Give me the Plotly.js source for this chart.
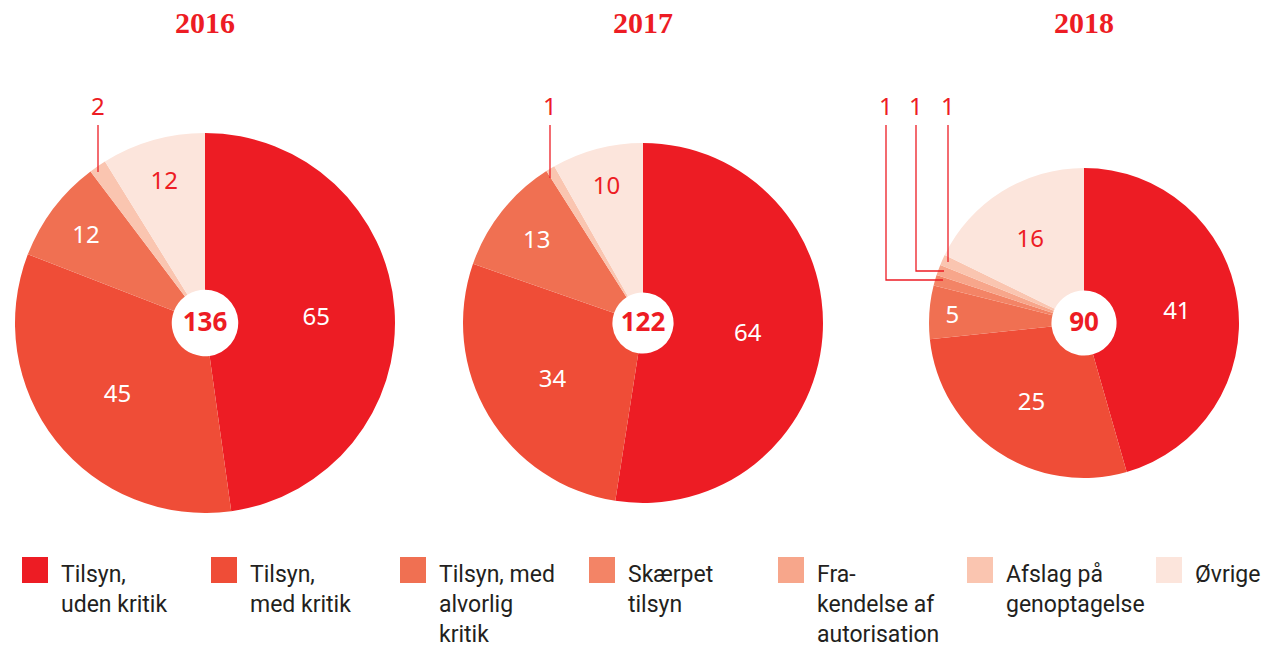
<!DOCTYPE html>
<html><head><meta charset="utf-8">
<script src="https://cdn.plot.ly/plotly-3.0.1.min.js"></script>
<style>html,body{margin:0;padding:0;background:#fff}#chart{width:1288px;height:649px}</style>
</head><body><div id="chart"></div>
<script>
const categories = ['Tilsyn,<br>uden kritik','Tilsyn,<br>med kritik','Tilsyn, med<br>alvorlig<br>kritik','Skærpet<br>tilsyn','Fra-<br>kendelse af<br>autorisation','Afslag på<br>genoptagelse','Øvrige'];
const years = ['2016','2017','2018'];
const values2016 = [65,45,12,0,0,2,12];
const values2017 = [64,34,13,0,0,1,10];
const values2018 = [41,25,5,1,1,1,16];
const colors = ['#ED1C24','#EF4D37','#F07052','#F38466','#F7A68B','#FAC5B0','#FCE5DC'];
const textColors = ['#FFFFFF','#FFFFFF','#FFFFFF','#FFFFFF','#FFFFFF','#FFFFFF','#ED1C24'];

const W = 1288, H = 649;
const allValues = [values2016, values2017, values2018];
const geo = [ {cx:205, cy:323, r:190, hole:0.175}, {cx:643, cy:323, r:180, hole:0.17}, {cx:1084, cy:323, r:155, hole:0.21} ];
const RED = '#ED1C24';
const numFont = 'Noto Sans, Open Sans, sans-serif';
const txtFont = 'Roboto, Noto Sans, sans-serif';

const data = allValues.map((vals, i) => {
  const g = geo[i];
  const total = vals.reduce((a,b)=>a+b,0);
  return {
    type: 'pie',
    values: vals,
    labels: categories,
    marker: {colors: colors, line: {width: 0}},
    sort: false,
    direction: 'clockwise',
    rotation: 0,
    hole: g.hole,
    text: vals.map(v => v >= 5 ? String(v) : ''),
    textinfo: 'text',
    textposition: 'inside',
    insidetextorientation: 'horizontal',
    insidetextfont: {family: numFont, size: 24, color: textColors},
    title: {text: '<b>' + total + '</b>', position: 'middle center', font: {family: numFont, size: 26, color: RED}},
    domain: {x: [(g.cx - g.r)/W, (g.cx + g.r)/W], y: [(H - g.cy - g.r)/H, (H - g.cy + g.r)/H]},
    showlegend: false,
    hoverinfo: 'label+value'
  };
});

const annotations = [];
const shapes = [];
// year titles
years.forEach((y, i) => {
  annotations.push({text: '<b>' + y + '</b>', x: geo[i].cx / W, y: 1 - 22/H, xref: 'paper', yref: 'paper',
    showarrow: false, xanchor: 'center', yanchor: 'middle', font: {family: 'Liberation Serif, DejaVu Serif, serif', size: 30, color: RED}});
});
// legend
categories.forEach((c, k) => {
  const x0 = 22 + k * 189;
  shapes.push({type: 'rect', xref: 'paper', yref: 'paper', x0: x0/W, x1: (x0+26)/W, y0: 1 - 583/H, y1: 1 - 557/H, fillcolor: colors[k], line: {width: 0}});
  annotations.push({text: c, x: (x0 + 37)/W, y: 1 - 559/H, xref: 'paper', yref: 'paper', showarrow: false,
    xanchor: 'left', yanchor: 'top', align: 'left', font: {family: txtFont, size: 23, color: '#231F20'}});
});
// small-slice callouts
function callout(label, lx, pts) {
  annotations.push({text: String(label), x: lx/W, y: 1 - 105/H, xref: 'paper', yref: 'paper', showarrow: false,
    xanchor: 'center', yanchor: 'middle', font: {family: numFont, size: 24, color: RED}});
  let path = 'M ' + pts.map(p => (p[0]/W) + ' ' + (1 - p[1]/H)).join(' L ');
  shapes.push({type: 'path', xref: 'paper', yref: 'paper', path: path, line: {color: RED, width: 1.3}});
}
callout(values2016[5], 98, [[98,125],[98,172]]);
callout(values2017[5], 550, [[550,125],[550,178]]);
callout(values2018[3], 886, [[886,125],[886,280],[943,280]]);
callout(values2018[4], 916, [[916,125],[916,271],[944,271]]);
callout(values2018[5], 948, [[948,125],[948,262]]);

const layout = {
  width: W, height: H,
  margin: {l: 0, r: 0, t: 0, b: 0},
  paper_bgcolor: '#FFFFFF', plot_bgcolor: '#FFFFFF',
  showlegend: false,
  annotations: annotations,
  shapes: shapes
};
Plotly.newPlot('chart', data, layout, {displayModeBar: false, staticPlot: true});
</script>
</body></html>
